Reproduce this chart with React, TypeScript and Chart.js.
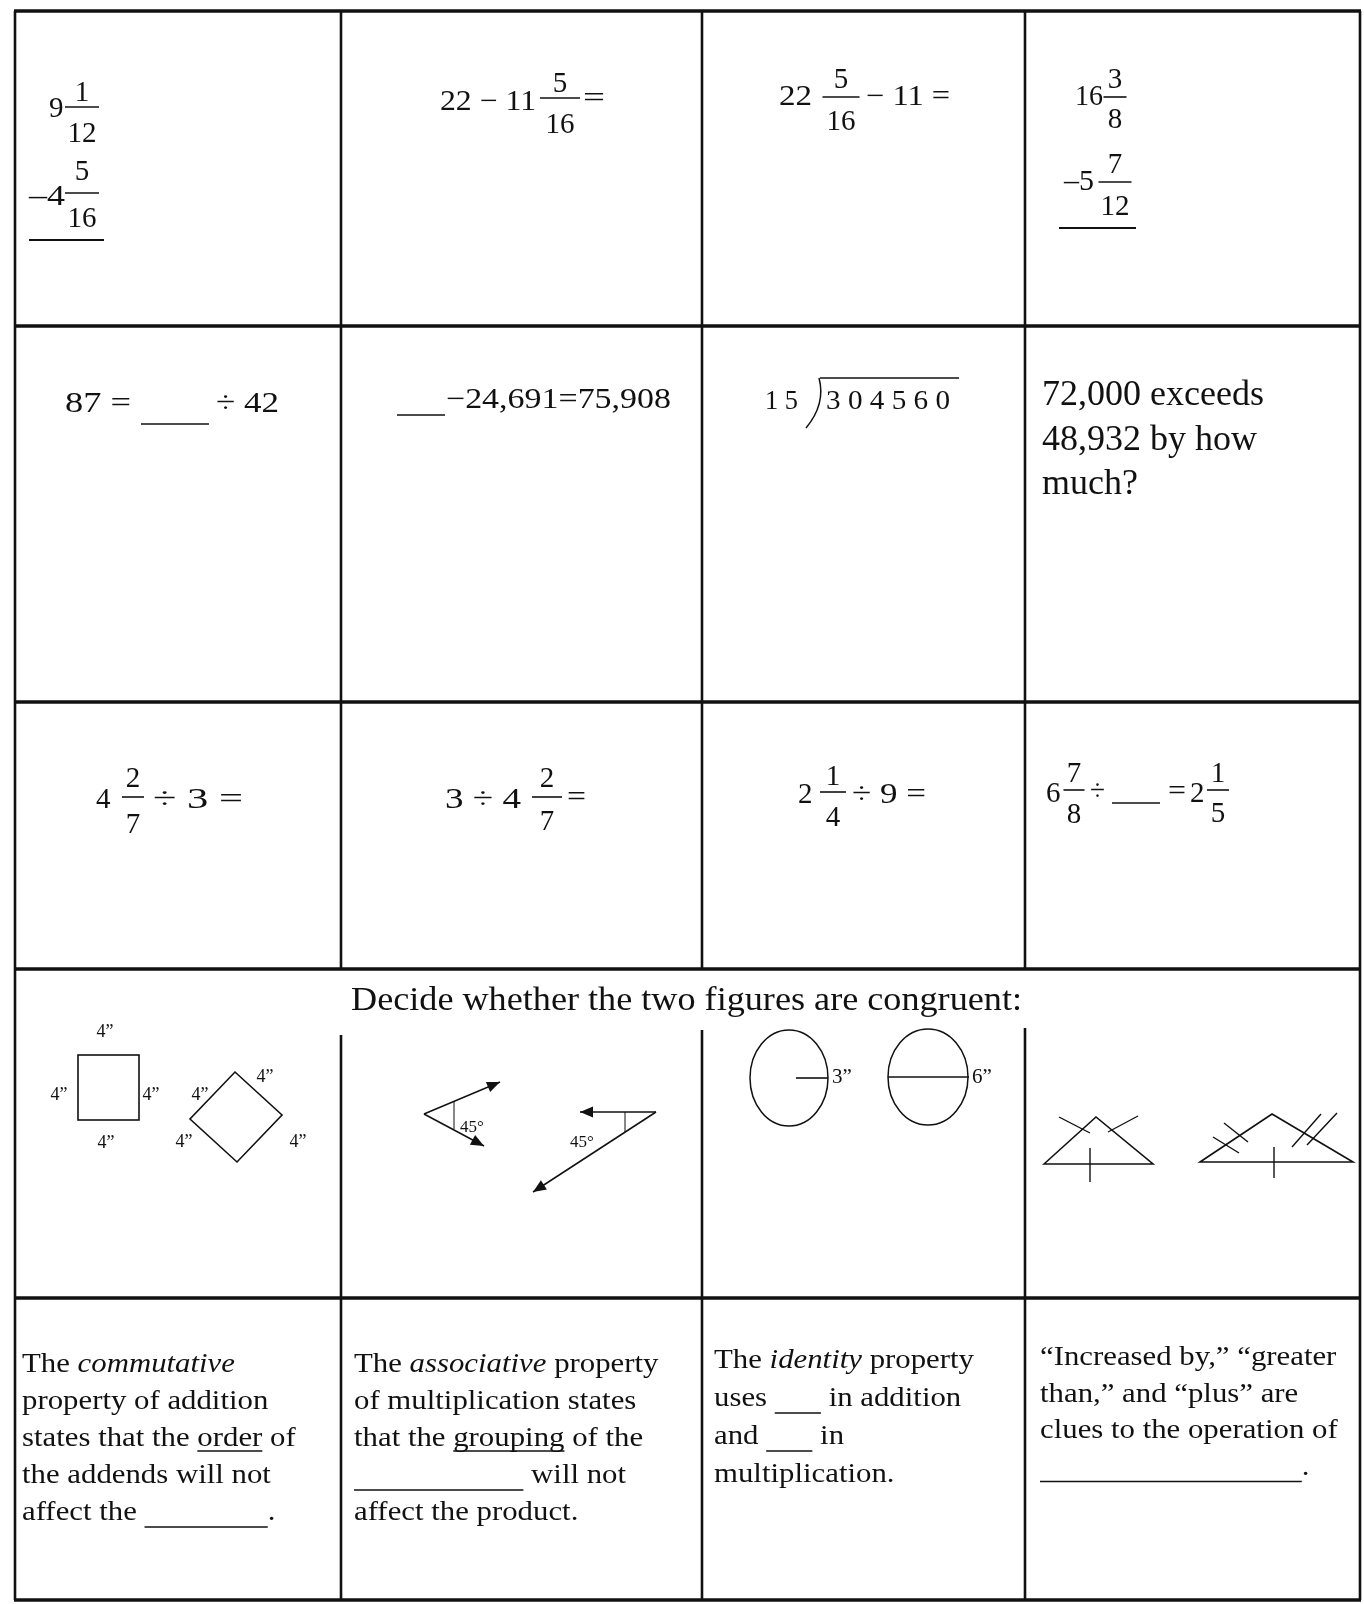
import React, { useEffect, useRef } from "react";
import { Chart, registerables } from "chart.js";

Chart.register(...registerables);

const PAGE_W = 1364;
const PAGE_H = 1604;
const FONT = '"Liberation Serif", "Times New Roman", Times, serif';
const INK = "#111";

// ================= CONTENT =================
type Seg = { s?: string; i?: boolean; u?: boolean; b?: number };

// table edges (worksheet units)
const columnEdges = [15, 341, 702, 1025, 1360];
const rowEdges = [11, 326, 702, 969, 1298, 1600];
const figureDividerTops = [1035, 1030, 1028];

// plain number/operator texts of rows 1-3
const numberTexts = [
  "9", "–4", "22 − 11", "=", "22", "− 11 =", "16", "–5",
  "87 =", "÷ 42", "−24,691=75,908", "1 5", "3 0 4 5 6 0",
  "4", "÷ 3 =", "3 ÷ 4", "=", "2", "÷ 9 =", "6", "÷", "=", "2",
];
const fractionNumerators = ["1", "5", "5", "5", "3", "7", "2", "2", "1", "7", "1"];
const fractionDenominators = ["12", "16", "16", "16", "8", "12", "7", "7", "4", "8", "5"];
const wordProblemLines = ["72,000 exceeds", "48,932 by how", "much?"];
const congruenceTitle = "Decide whether the two figures are congruent:";
const squareSideLabels = ["4”", "4”", "4”", "4”"];
const rhombusSideLabels = ["4”", "4”", "4”", "4”"];
const angleLabels = ["45°", "45°"];
const circleLabels = ["3”", "6”"];
const propertyStatements: Seg[][][] = [
  [
    [{ s: "The " }, { s: "commutative", i: true }],
    [{ s: "property of addition" }],
    [{ s: "states that the " }, { s: "order", u: true }, { s: " of" }],
    [{ s: "the addends will not" }],
    [{ s: "affect the " }, { b: 8 }, { s: "." }],
  ],
  [
    [{ s: "The " }, { s: "associative", i: true }, { s: " property" }],
    [{ s: "of multiplication states" }],
    [{ s: "that the " }, { s: "grouping", u: true }, { s: " of the" }],
    [{ b: 11 }, { s: " will not" }],
    [{ s: "affect the product." }],
  ],
  [
    [{ s: "The " }, { s: "identity", i: true }, { s: " property" }],
    [{ s: "uses " }, { b: 3 }, { s: " in addition" }],
    [{ s: "and " }, { b: 3 }, { s: " in" }],
    [{ s: "multiplication." }],
  ],
  [
    [{ s: "“Increased by,” “greater" }],
    [{ s: "than,” and “plus” are" }],
    [{ s: "clues to the operation of" }],
    [{ b: 17 }, { s: "." }],
  ],
];

// ================= LAYOUT =================
// [left x, baseline, font size, fitted width (0 = natural)]
const numberTextLayout = [
  [49, 117, 29, 0], [29, 205, 29, 36], [440, 110, 29, 96], [583, 107, 29, 22],
  [779, 105, 29, 33], [866, 105, 29, 84], [1075, 105, 29, 28], [1064, 190, 29, 30],
  [65, 412, 29, 66], [216, 412, 29, 63], [446, 408, 29, 225], [765, 409, 28, 33], [826, 409, 28, 124],
  [96, 808, 29, 0], [153, 808, 29, 90], [445, 808, 29, 76], [567, 806, 29, 19],
  [798, 803, 29, 0], [852, 803, 29, 74], [1046, 802, 29, 0], [1090, 800, 29, 15], [1168, 800, 29, 18], [1190, 802, 29, 0],
];
// [center x, bar y, bar width, numerator baseline, denominator baseline]
const fractionLayout = [
  [82, 107, 34, 101, 142], [82, 193, 34, 180, 227], [560, 98, 40, 92, 133], [841, 97, 37, 88, 130],
  [1115, 97, 23, 88, 128], [1115, 182, 33, 173, 215], [133, 797, 22, 787, 833], [547, 797, 30, 787, 830],
  [833, 792, 26, 785, 826], [1074, 790, 21, 782, 823], [1218, 790, 22, 782, 822],
];
// [x1, y1, x2, y2, width]
const ruleLayout = [
  [29, 240, 104, 240, 2], [1059, 228, 1136, 228, 2],
  [141, 424, 209, 424, 1.5], [397, 415, 445, 415, 1.5], [820, 378, 959, 378, 1.5],
  [1112, 803, 1160, 803, 1.5],
];
const divisionBracket = [819, 378, 826, 404, 806, 428];
const wordProblemLayout = [1042, 405, 44.5, 36];
const titleLayout = [351, 1010, 34, 671];
const squareBox = [78, 1055, 139, 1120];
const squareLabelPos = [[105, 1037], [59, 1100], [151, 1100], [106, 1148]];
const rhombusPts = [[235, 1072], [282, 1115], [237, 1162], [190, 1119]];
const rhombusLabelPos = [[200, 1100], [265, 1082], [184, 1147], [298, 1147]];
const angleFigures = [
  { v: [424, 1114], tips: [[500, 1082], [484, 1146]], tick: [454, 1101, 454, 1129], label: [472, 1132] },
  { v: [656, 1112], tips: [[580, 1112], [533, 1192]], tick: [625, 1112, 625, 1132], label: [582, 1147] },
];
const circleFigures = [
  { c: [789, 1078], r: [39, 48], seg: [796, 828], label: [842, 1083] },
  { c: [928, 1077], r: [40, 48], seg: [888, 969], label: [982, 1083] },
];
const triangleFigures = [
  {
    pts: [[1044, 1164], [1096, 1117], [1153, 1164]],
    marks: [[1059, 1117, 1090, 1133], [1138, 1116, 1108, 1132], [1090, 1148, 1090, 1182]],
  },
  {
    pts: [[1200, 1162], [1272, 1114], [1353, 1162]],
    marks: [[1224, 1123, 1248, 1142], [1213, 1137, 1239, 1153], [1292, 1147, 1321, 1114], [1307, 1145, 1337, 1113], [1274, 1147, 1274, 1178]],
  },
];
// [left, first baseline, leading]
const paragraphLayout = [[22, 1372, 37], [354, 1372, 37], [714, 1368, 38], [1040, 1365, 36.5]];
const P_SIZE = 28;
const P_SX = 1.1;

// ================= DRAWING =================
const worksheetPlugin = {
  id: "worksheet",
  beforeDraw(chart: any) {
    const ctx = chart.ctx;
    ctx.save();
    ctx.fillStyle = "#fff";
    ctx.fillRect(0, 0, chart.width, chart.height);
    ctx.restore();
  },
  afterDraw(chart: any) {
    const ctx: CanvasRenderingContext2D = chart.ctx;
    const xs = chart.scales.x;
    const ys = chart.scales.y;
    const X = (v: number) => xs.getPixelForValue(v);
    const Y = (v: number) => ys.getPixelForValue(v);
    const S = (v: number) => Math.abs(ys.getPixelForValue(v) - ys.getPixelForValue(0));

    ctx.save();
    ctx.fillStyle = INK;
    ctx.strokeStyle = INK;
    ctx.lineCap = "butt";

    const text = (s: string, x: number, y: number, size: number, o: { w?: number; sx?: number; italic?: boolean; center?: boolean } = {}) => {
      ctx.font = `${o.italic ? "italic " : ""}${S(size)}px ${FONT}`;
      const m = ctx.measureText(s).width;
      let sx = o.sx ?? 1;
      if (o.w) sx = S(o.w) / m;
      const px = X(x) - (o.center ? (m * sx) / 2 : 0);
      ctx.save();
      ctx.translate(px, Y(y));
      ctx.scale(sx, 1);
      ctx.textAlign = "left";
      ctx.textBaseline = "alphabetic";
      ctx.fillText(s, 0, 0);
      ctx.restore();
      return (m * sx) / S(1);
    };
    const line = (x1: number, y1: number, x2: number, y2: number, w: number) => {
      ctx.lineWidth = w;
      ctx.beginPath();
      ctx.moveTo(X(x1), Y(y1));
      ctx.lineTo(X(x2), Y(y2));
      ctx.stroke();
    };
    const arrow = (x1: number, y1: number, x2: number, y2: number) => {
      line(x1, y1, x2, y2, 1.5);
      const a = Math.atan2(Y(y2) - Y(y1), X(x2) - X(x1));
      const L = 13, H = 5.5;
      ctx.beginPath();
      ctx.moveTo(X(x2), Y(y2));
      ctx.lineTo(X(x2) - L * Math.cos(a) + H * Math.sin(a), Y(y2) - L * Math.sin(a) - H * Math.cos(a));
      ctx.lineTo(X(x2) - L * Math.cos(a) - H * Math.sin(a), Y(y2) - L * Math.sin(a) + H * Math.cos(a));
      ctx.closePath();
      ctx.fill();
    };

    // rows 1-3: numbers
    numberTexts.forEach((s, i) => {
      const [x, y, size, w] = numberTextLayout[i];
      text(s, x, y, size, { w: w || undefined });
    });
    fractionNumerators.forEach((n, i) => {
      const [cx, bar, w, nb, db] = fractionLayout[i];
      text(n, cx, nb, 29, { center: true });
      text(fractionDenominators[i], cx, db, 29, { center: true });
      line(cx - w / 2, bar, cx + w / 2, bar, 1.6);
    });
    ruleLayout.forEach(([x1, y1, x2, y2, w]) => line(x1, y1, x2, y2, w));
    {
      const [x0, y0, cx, cy, x1, y1] = divisionBracket;
      ctx.lineWidth = 1.5;
      ctx.beginPath();
      ctx.moveTo(X(x0), Y(y0));
      ctx.quadraticCurveTo(X(cx), Y(cy), X(x1), Y(y1));
      ctx.stroke();
    }
    wordProblemLines.forEach((s, i) => {
      const [x, y, lead, size] = wordProblemLayout;
      text(s, x, y + i * lead, size);
    });

    // row 4: title and figures
    text(congruenceTitle, titleLayout[0], titleLayout[1], titleLayout[2], { w: titleLayout[3] });
    ctx.lineWidth = 1.6;
    ctx.strokeRect(X(squareBox[0]), Y(squareBox[1]), X(squareBox[2]) - X(squareBox[0]), Y(squareBox[3]) - Y(squareBox[1]));
    squareSideLabels.forEach((s, i) => text(s, squareLabelPos[i][0], squareLabelPos[i][1], 18, { center: true }));
    ctx.beginPath();
    rhombusPts.forEach(([x, y], i) => (i ? ctx.lineTo(X(x), Y(y)) : ctx.moveTo(X(x), Y(y))));
    ctx.closePath();
    ctx.lineWidth = 1.6;
    ctx.stroke();
    rhombusSideLabels.forEach((s, i) => text(s, rhombusLabelPos[i][0], rhombusLabelPos[i][1], 18, { center: true }));

    angleFigures.forEach((f, i) => {
      f.tips.forEach(([x, y]) => arrow(f.v[0], f.v[1], x, y));
      line(f.tick[0], f.tick[1], f.tick[2], f.tick[3], 1);
      text(angleLabels[i], f.label[0], f.label[1], 17, { center: true });
    });

    circleFigures.forEach((f, i) => {
      ctx.lineWidth = 1.5;
      ctx.beginPath();
      ctx.ellipse(X(f.c[0]), Y(f.c[1]), S(f.r[0]), S(f.r[1]), 0, 0, Math.PI * 2);
      ctx.stroke();
      line(f.seg[0], f.c[1], f.seg[1], f.c[1], 1.6);
      text(circleLabels[i], f.label[0], f.label[1], 21, { center: true });
    });

    triangleFigures.forEach((f) => {
      ctx.lineWidth = 1.6;
      ctx.beginPath();
      f.pts.forEach(([x, y], i) => (i ? ctx.lineTo(X(x), Y(y)) : ctx.moveTo(X(x), Y(y))));
      ctx.closePath();
      ctx.stroke();
      f.marks.forEach(([x1, y1, x2, y2]) => line(x1, y1, x2, y2, 1.4));
    });

    // row 5: property statements
    ctx.font = `${S(P_SIZE)}px ${FONT}`;
    const underscoreW = (ctx.measureText("_").width * P_SX) / S(1);
    propertyStatements.forEach((lines, ci) => {
      const [left, base0, lead] = paragraphLayout[ci];
      lines.forEach((segs, li) => {
        let x = left;
        const y = base0 + li * lead;
        segs.forEach((seg) => {
          if (seg.b) {
            const w = underscoreW * seg.b;
            line(x, y + 7, x + w, y + 7, 1.3);
            x += w;
          } else if (seg.s) {
            const w = text(seg.s, x, y, P_SIZE, { sx: P_SX, italic: seg.i });
            if (seg.u) line(x, y + 5, x + w, y + 5, 1.3);
            x += w;
          }
        });
      });
    });

    ctx.restore();
  },
};

function buildGridDatasets() {
  const sets: any[] = [];
  const last = rowEdges.length - 1;
  rowEdges.forEach((y) => {
    sets.push({ data: [{ x: columnEdges[0] - 1, y }, { x: columnEdges[columnEdges.length - 1] + 1, y }], borderWidth: 3.5 });
  });
  columnEdges.forEach((x, i) => {
    if (i === 0 || i === columnEdges.length - 1) {
      sets.push({ data: [{ x, y: rowEdges[0] }, { x, y: rowEdges[last] }], borderWidth: 2.6 });
    } else {
      sets.push({ data: [{ x, y: rowEdges[0] }, { x, y: rowEdges[3] }], borderWidth: 2.6 });
      sets.push({ data: [{ x, y: figureDividerTops[i - 1] }, { x, y: rowEdges[last] }], borderWidth: 2.6 });
    }
  });
  return sets.map((s) => ({
    ...s,
    showLine: true,
    borderColor: INK,
    pointRadius: 0,
    fill: false,
    clip: false,
  }));
}

export default function App() {
  const ref = useRef<HTMLCanvasElement>(null);
  useEffect(() => {
    document.body.style.margin = "0";
    const canvas = ref.current;
    if (!canvas) return;
    const chart = new Chart(canvas, {
      type: "scatter",
      data: { datasets: buildGridDatasets() },
      options: {
        animation: false,
        responsive: false,
        events: [],
        layout: { padding: 0 },
        plugins: { legend: { display: false }, tooltip: { enabled: false } },
        scales: {
          x: { type: "linear", min: 0, max: PAGE_W, display: false },
          y: { type: "linear", min: 0, max: PAGE_H, reverse: true, display: false },
        },
      },
      plugins: [worksheetPlugin],
    } as any);
    return () => chart.destroy();
  }, []);
  return <canvas ref={ref} width={PAGE_W} height={PAGE_H} style={{ display: "block" }} />;
}
